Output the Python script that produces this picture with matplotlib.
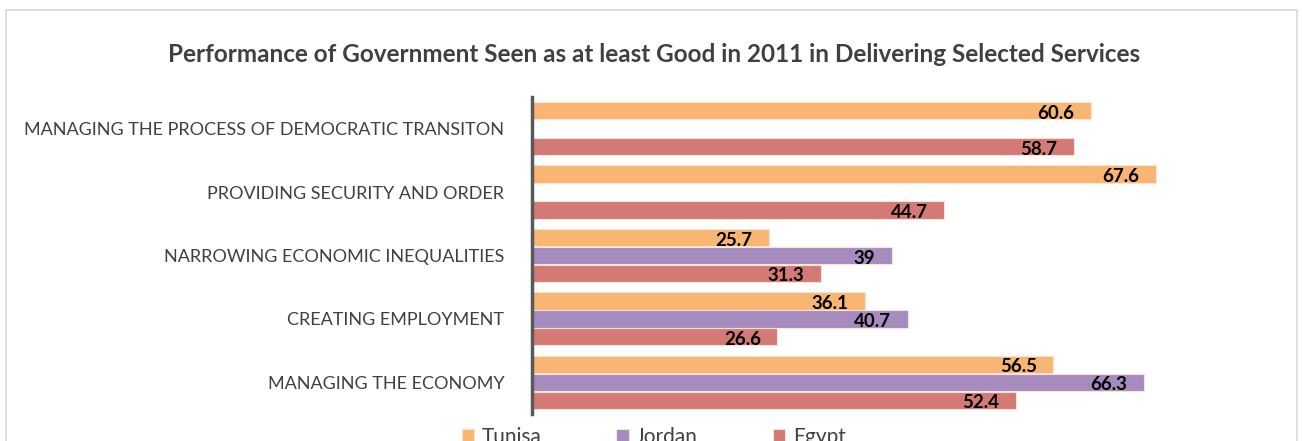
import matplotlib
matplotlib.use("Agg")
import matplotlib.pyplot as plt
import matplotlib.patches as patches
import numpy as np

# categories listed bottom -> top
categories = ["MANAGING THE ECONOMY", "CREATING EMPLOYMENT",
              "NARROWING ECONOMIC INEQUALITIES", "PROVIDING SECURITY AND ORDER",
              "MANAGING THE PROCESS OF DEMOCRATIC TRANSITON"]
tunisia = [56.5, 36.1, 25.7, 67.6, 60.6]
jordan = [66.3, 40.7, 39.0, np.nan, np.nan]
egypt = [52.4, 26.6, 31.3, 44.7, 58.7]
series_names = ["Tunisa", "Jordan", "Egypt"]
colors = ["#F9B572", "#A68BBF", "#D47A75"]

plt.rcParams["font.family"] = ["Lato", "DejaVu Sans"]

fig = plt.figure(figsize=(13.02, 4.41), dpi=100)
ax = fig.add_axes([0.4086, 0.0612, 0.567, 0.719])

# chart frame
fig.patches.append(patches.Rectangle((6 / 1302, -0.1), 1291 / 1302, 1 - 10 / 441 + 0.1,
                                     transform=fig.transFigure, fill=False,
                                     edgecolor="#d9d9d9", linewidth=1.2))

y = np.arange(len(categories))
h = 0.283
offsets = [h, 0, -h]
for vals, off, col, name in zip([tunisia, jordan, egypt], offsets, colors, series_names):
    ax.barh(y + off, vals, height=h * 0.96, color=col, label=name,
            edgecolor="#fbe3d6", linewidth=0.8)
    for yy, v in zip(y + off, vals):
        if np.isnan(v):
            continue
        ax.text(v - 1.8, yy - 0.04, f"{v:g}", ha="right", va="center",
                fontsize=13.5, fontweight="bold", color="black")

ax.set_xlim(0, 80)
ax.set_ylim(-0.5, len(categories) - 0.5)
ax.set_yticks(y)
ax.set_yticklabels(categories, fontsize=13, color="#404040")
ax.tick_params(axis="y", length=0, pad=20)
ax.set_xticks([])
for s in ["top", "right", "bottom"]:
    ax.spines[s].set_visible(False)
ax.spines["left"].set_color("#595959")
ax.spines["left"].set_linewidth(2.5)

fig.text(0.5027, 1 - 55 / 441, "Performance of Government Seen as at least Good in 2011 in Delivering Selected Services",
         ha="center", va="center", fontsize=17.5, fontweight="bold", color="#404040")

fig.legend(loc="upper center", bbox_to_anchor=(0.502, 1 - 408 / 441), ncol=3,
           frameon=False, fontsize=15, handlelength=0.6, handleheight=0.6,
           columnspacing=3.6, handletextpad=0.35, labelcolor="#404040")

fig.savefig("out.png", dpi=100)
